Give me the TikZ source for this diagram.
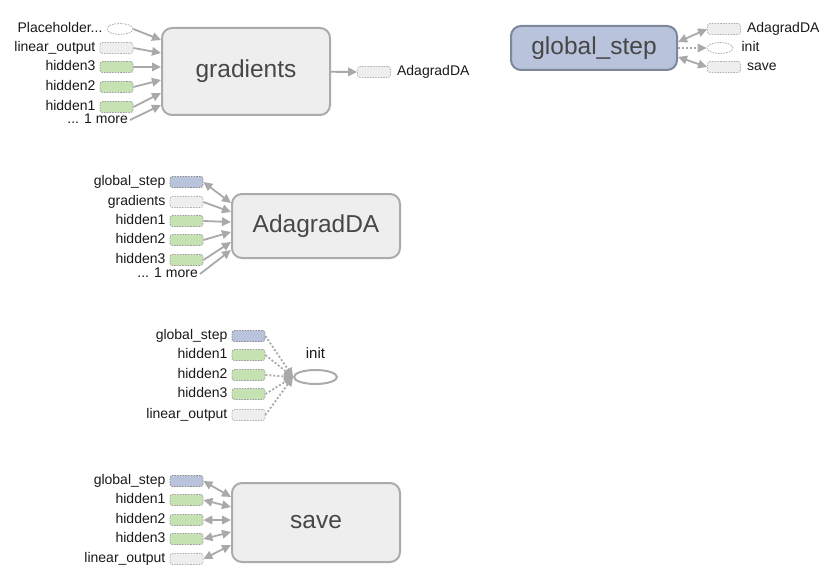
\documentclass[tikz,border=0pt]{standalone}
\usepackage{fontspec}
\setmainfont{Liberation Sans}
\usetikzlibrary{arrows.meta,shapes.geometric,positioning}
\definecolor{opfill}{HTML}{EEEEEE}
\definecolor{opline}{HTML}{ABABAB}
\definecolor{varfill}{HTML}{B9C3DB}
\definecolor{varline}{HTML}{7D879B}
\definecolor{hidfill}{HTML}{C6E2B3}
\definecolor{edgec}{HTML}{A9A9A9}

\begin{document}
\begin{tikzpicture}
[x=1pt,y=-1pt%
,every node/.style={inner sep=0pt}%
,op/.style={draw=opline,%
            fill=opfill,%
            line width=2pt,%
            rounded corners=10pt,%
            text=black!72,%
            font=\fontsize{24.5}{28}\selectfont}%
,stub/.style={draw=black!30,%
              fill=opfill,%
              line width=0.8pt,%
              dash pattern=on 1.6pt off 1.1pt,%
              rounded corners=2.5pt,%
              minimum width=33pt,%
              minimum height=11pt}%
,hid/.style={stub, fill=hidfill, draw=black!38}%
,var/.style={stub, fill=varfill, draw=black!45}%
,stubell/.style={stub, ellipse, fill=white, minimum width=26pt}%
,lbl/.style={text=black!90,%
             text height=9.8pt, text depth=2.8pt,%
             font=\fontsize{14}{16}\selectfont}%
,flow/.style={draw=edgec, line width=1.8pt,%
              -{Triangle[length=9pt,width=8.5pt]}}%
,both/.style={flow, {Triangle[length=9pt,width=8.5pt]}-{Triangle[length=9pt,width=8.5pt]}}%
,ctrl/.style={flow, dash pattern=on 2pt off 2pt}]
\useasboundingbox (0,0) rectangle (837,583);

% gradients
\node[op, minimum width=168pt, minimum height=87pt] (grad) at (246,71.5) {gradients};
\node[stubell] (gph) at (120,29) {};
\node[stub] (glin) at (116.5,48) {};
\node[hid] (gh3) at (116.5,67) {};
\node[hid] (gh2) at (116.5,87) {};
\node[hid] (gh1) at (116.5,107) {};
\node[lbl, left=4pt of gph] {Placeholder...};
\node[lbl, left=4pt of glin] {linear\_output};
\node[lbl, left=4pt of gh3] {hidden3};
\node[lbl, left=4pt of gh2] {hidden2};
\node[lbl, left=4pt of gh1] {hidden1};
\node[lbl, anchor=east] (gmore) at (128,120) {... 1 more};
\node[stub] (gout) at (374,72) {};
\node[lbl, right=6pt of gout] {AdagradDA};
\draw[flow] (gph.east) -- ([yshift=31.5pt]grad.west);
\draw[flow] (glin.east) -- ([yshift=18.5pt]grad.west);
\draw[flow] (gh3.east) -- ([yshift=4.5pt]grad.west);
\draw[flow] (gh2.east) -- ([yshift=-8.5pt]grad.west);
\draw[flow] (gh1.east) -- ([yshift=-21.5pt]grad.west);
\draw[flow] ([xshift=2pt]gmore.east) -- ([yshift=-33.5pt]grad.west);
\draw[flow] (grad) -- (gout);

% global_step
\node[op, fill=varfill, draw=varline, minimum width=166pt, minimum height=44pt] (gstep) at (594,48) {global\_step};
\node[stub] (gsa) at (724,29) {};
\node[stubell] (gsi) at (720,48) {};
\node[stub] (gss) at (724,67) {};
\node[lbl, right=6pt of gsa] {AdagradDA};
\node[lbl, right=8pt of gsi] {init};
\node[lbl, right=6pt of gss] {save};
\draw[both] ([yshift=6pt]gstep.east) -- (gsa.west);
\draw[ctrl] (gstep.east) -- (gsi.west);
\draw[both] ([yshift=-9pt]gstep.east) -- (gss.west);

% AdagradDA
\node[op, minimum width=168pt, minimum height=64pt] (ada) at (316,226) {AdagradDA};
\node[var] (ags) at (186.5,182) {};
\node[stub] (agr) at (186.5,202) {};
\node[hid] (ah1) at (186.5,221) {};
\node[hid] (ah2) at (186.5,240) {};
\node[hid] (ah3) at (186.5,260) {};
\node[lbl, left=4pt of ags] {global\_step};
\node[lbl, left=4pt of agr] {gradients};
\node[lbl, left=4pt of ah1] {hidden1};
\node[lbl, left=4pt of ah2] {hidden2};
\node[lbl, left=4pt of ah3] {hidden3};
\node[lbl, anchor=east] (amore) at (198,274) {... 1 more};
\draw[both] (ags.east) -- ([yshift=23pt]ada.west);
\draw[flow] (agr.east) -- ([yshift=14pt]ada.west);
\draw[flow] (ah1.east) -- ([yshift=4pt]ada.west);
\draw[flow] (ah2.east) -- ([yshift=-6pt]ada.west);
\draw[flow] (ah3.east) -- ([yshift=-16pt]ada.west);
\draw[flow] ([xshift=2pt]amore.east) -- ([yshift=-24pt]ada.west);

% init
\node[draw=opline, line width=2pt, fill=white, ellipse, minimum width=43pt, minimum height=14pt] (init) at (315.5,377) {};
\node[lbl, font=\fontsize{15}{17}\selectfont, above=8pt of init] {init};
\node[var] (igs) at (248.5,336) {};
\node[hid] (ih1) at (248.5,355) {};
\node[hid] (ih2) at (248.5,375) {};
\node[hid] (ih3) at (248.5,394) {};
\node[stub] (ilin) at (248.5,415) {};
\node[lbl, left=4pt of igs] {global\_step};
\node[lbl, left=4pt of ih1] {hidden1};
\node[lbl, left=4pt of ih2] {hidden2};
\node[lbl, left=4pt of ih3] {hidden3};
\node[lbl, left=4pt of ilin] {linear\_output};
\foreach \src in {igs,ih1,ih2,ih3,ilin}
  \draw[ctrl] (\src.east) -- (init.west);

% save
\node[op, minimum width=168pt, minimum height=79pt] (save) at (316,522.5) {save};
\node[var] (sgs) at (186.5,481) {};
\node[hid] (sh1) at (186.5,500) {};
\node[hid] (sh2) at (186.5,520) {};
\node[hid] (sh3) at (186.5,539) {};
\node[stub] (slin) at (186.5,559) {};
\node[lbl, left=4pt of sgs] {global\_step};
\node[lbl, left=4pt of sh1] {hidden1};
\node[lbl, left=4pt of sh2] {hidden2};
\node[lbl, left=4pt of sh3] {hidden3};
\node[lbl, left=4pt of slin] {linear\_output};
\draw[both] (sgs.east) -- ([yshift=25.5pt]save.west);
\draw[both] (sh1.east) -- ([yshift=15.5pt]save.west);
\draw[both] (sh2.east) -- ([yshift=2.5pt]save.west);
\draw[both] (sh3.east) -- ([yshift=-9.5pt]save.west);
\draw[both] (slin.east) -- ([yshift=-22.5pt]save.west);
\end{tikzpicture}
\end{document}
